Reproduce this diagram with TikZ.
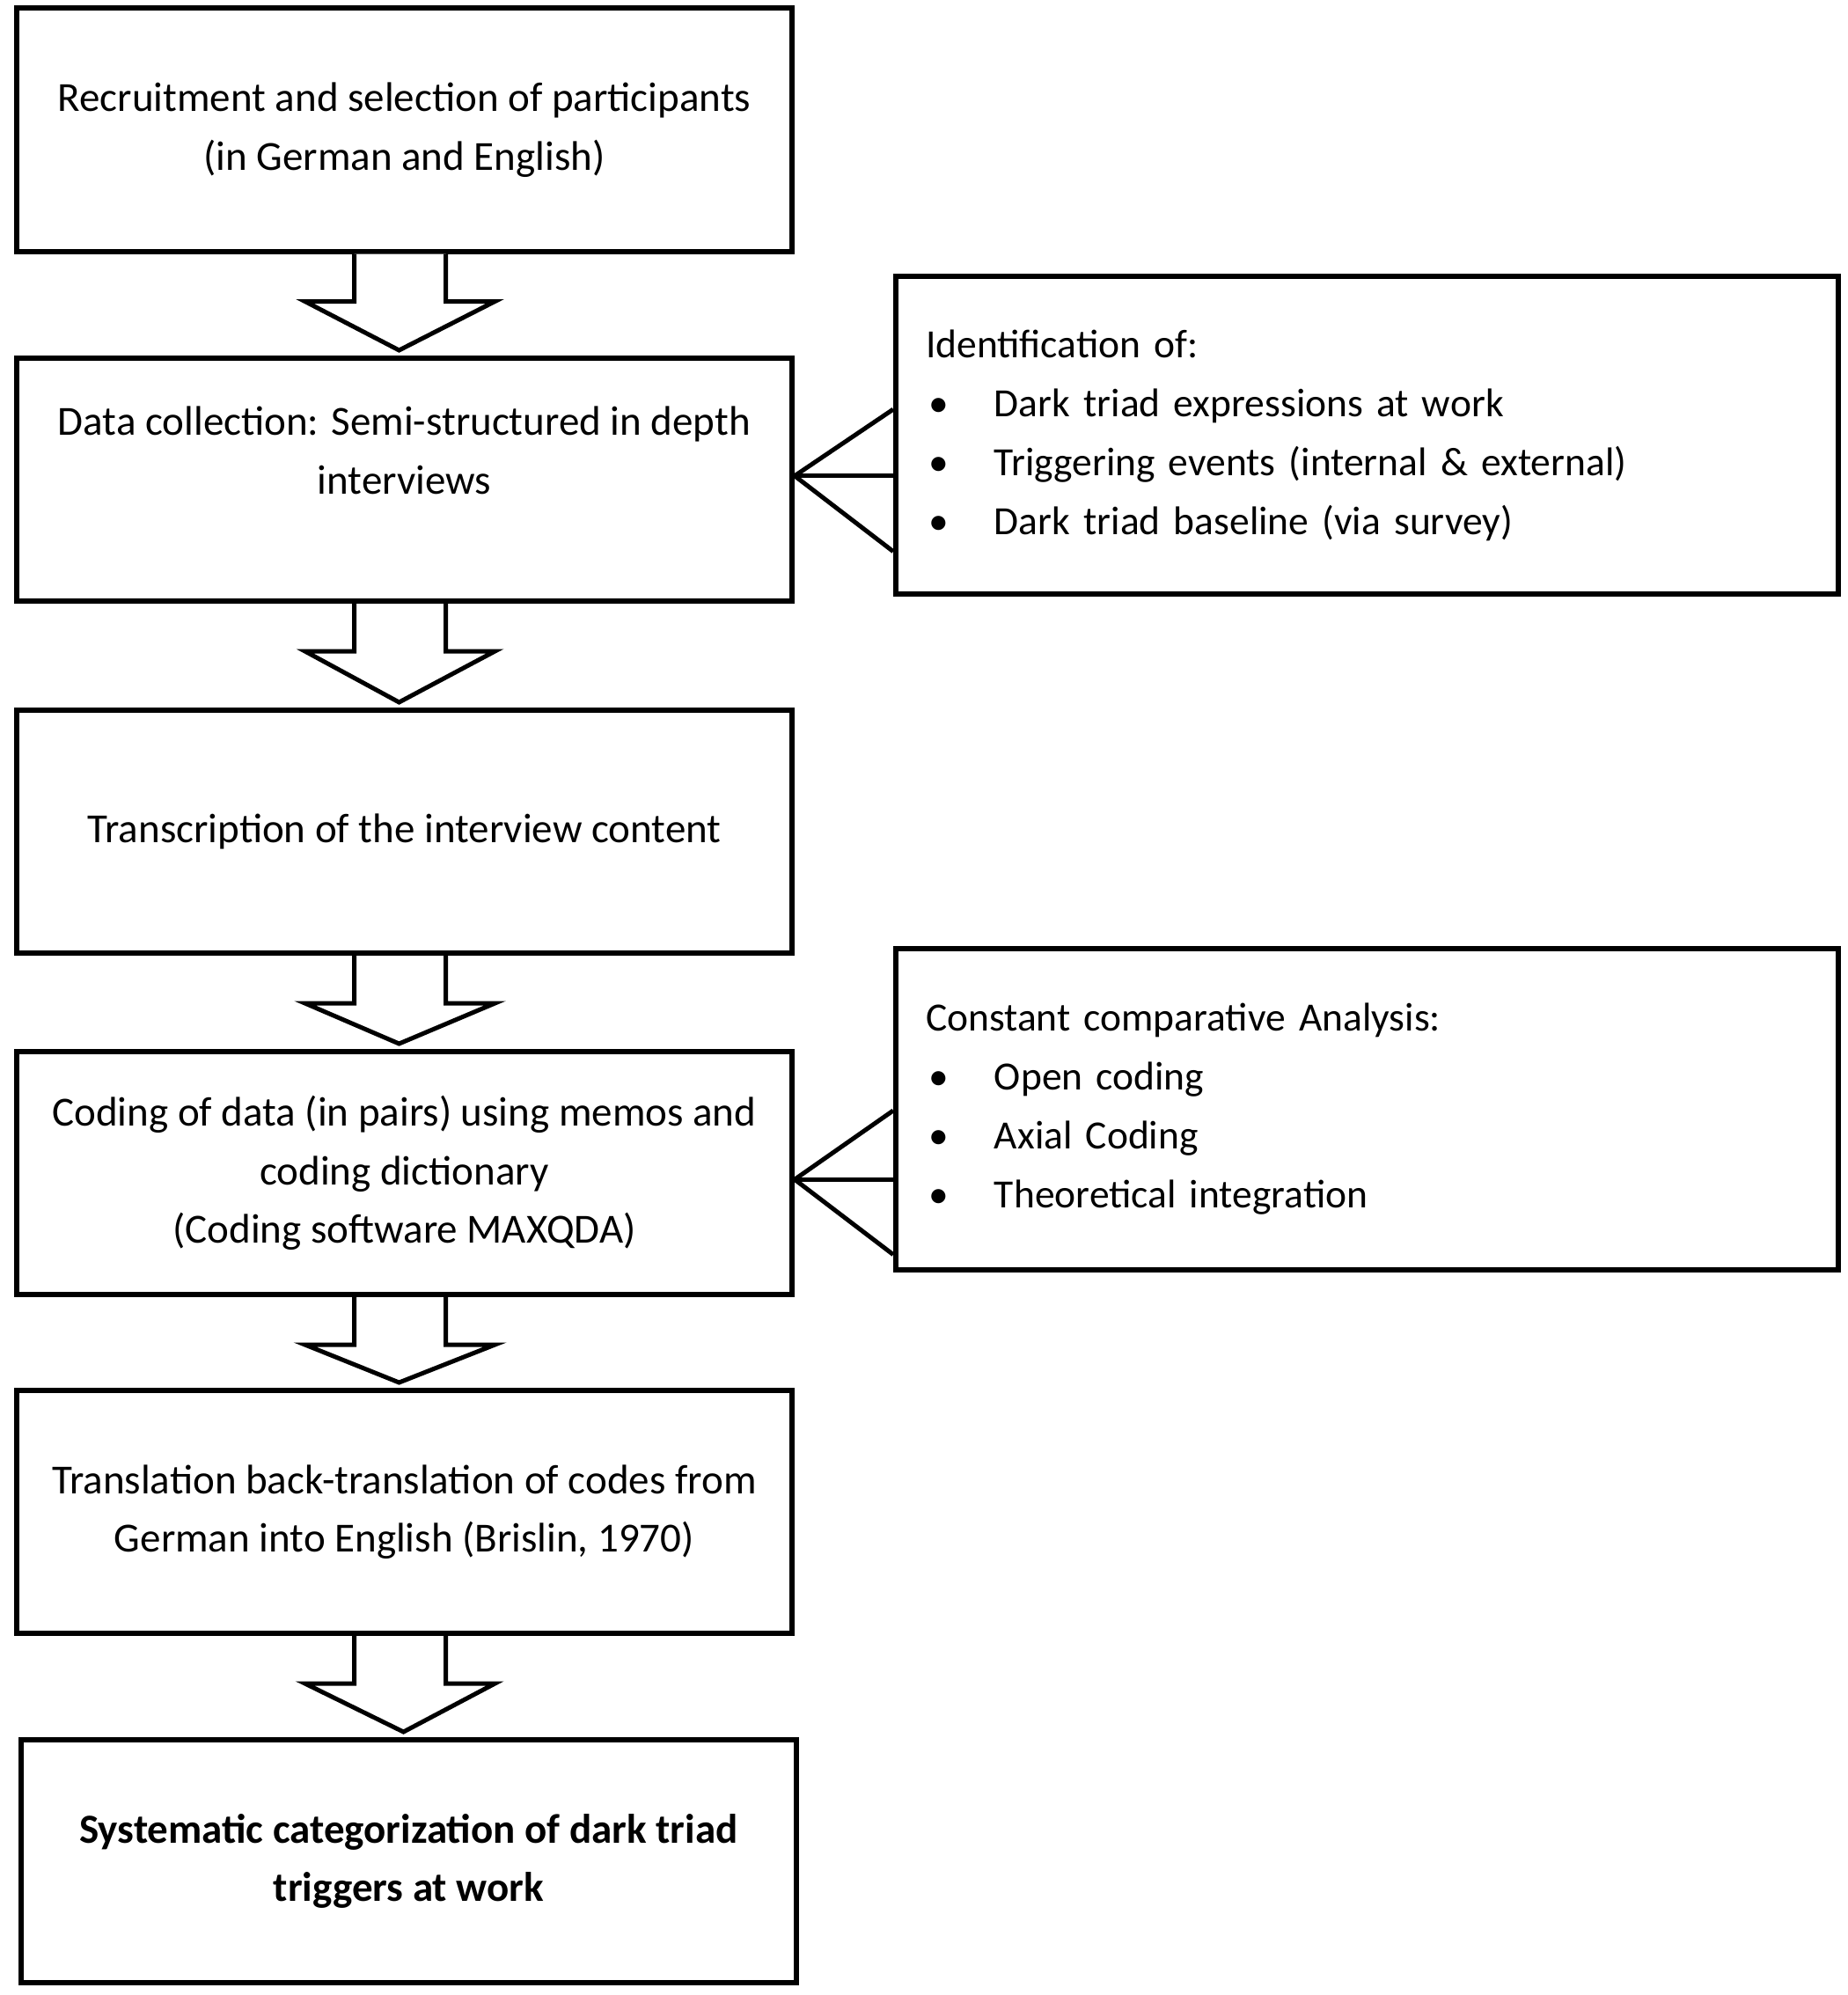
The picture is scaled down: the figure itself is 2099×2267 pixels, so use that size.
\documentclass[tikz,border=0pt]{standalone}
\usepackage{fontspec}
\setmainfont{Carlito}
\usetikzlibrary{calc}
\begin{document}
\begin{tikzpicture}[x=1pt,y=1pt,
  stepbox/.style={draw=black, line width=6pt, fill=white, minimum width=881pt, minimum height=276pt,
    align=center, inner sep=0pt, font=\fontsize{47}{66.5}\selectfont},
  sidebox/.style={draw=black, line width=6pt, fill=white, minimum width=1071pt,
    text width=1003pt, align=left, inner sep=0pt, font=\fontsize{45.5}{67}\selectfont},
  fork/.style={line width=5pt},
  blockarrow/.style={line width=5pt, fill=white, line join=miter}
]
\useasboundingbox (0,0) rectangle (2099,-2267);
\newcommand{\itm}{\makebox[78pt][l]{\hspace{3pt}\textbullet}}

\node[stepbox] (b1) at (459.5,-147.5) {Recruitment and selection of participants\\(in German and English)};
\node[stepbox] (b2) at (459.5,-545) {Data collection: Semi-structured in depth\\interviews\\\mbox{}};
\node[stepbox] (b3) at (459.5,-945) {Transcription of the interview content};
\node[stepbox] (b4) at (459.5,-1333) {Coding of data (in pairs) using memos and\\coding dictionary\\(Coding software MAXQDA)};
\node[stepbox] (b5) at (459.5,-1718) {Translation back-translation of codes from\\German into English (Brislin, 1970)};
\node[stepbox, font=\fontsize{47}{66.5}\selectfont\bfseries] (b6) at (464.5,-2115) {Systematic categorization of dark triad\\triggers at work};

\node[sidebox, minimum height=361pt] (r1) at (1553.5,-494.5) {Identification of:\\\itm Dark triad expressions at work\\\itm Triggering events (internal \& external)\\\itm Dark triad baseline (via survey)};
\node[sidebox, minimum height=365pt] (r2) at (1553.5,-1260.5) {Constant comparative Analysis:\\\itm Open coding\\\itm Axial Coding\\\itm Theoretical integration};

% block arrows
\foreach \a/\b in {b1/b2,b2/b3,b3/b4,b4/b5,b5/b6}{
  \draw[blockarrow] ($(\a.south)+(-57,0)$) -- ++(0,-54) -- ++(-56,0)
     -- ($(\b.north)+(-6,6)$) -- ($(\a.south)+(103,-54)$) -- ++(-56,0) -- ++(0,54);
}

% forks
\coordinate (f1a) at ($(r1.north west)!0.42!(r1.south west)$);
\coordinate (f1m) at ($(r1.north west)!0.626!(r1.south west)$);
\coordinate (f1b) at ($(r1.north west)!0.86!(r1.south west)$);
\coordinate (f1o) at (b2.east |- f1m);
\draw[fork] (f1a) -- (f1o) -- (f1b);
\draw[fork] (f1o) -- (f1m);

\coordinate (f2a) at ($(r2.north west)!0.504!(r2.south west)$);
\coordinate (f2m) at ($(r2.north west)!0.715!(r2.south west)$);
\coordinate (f2b) at ($(r2.north west)!0.945!(r2.south west)$);
\coordinate (f2o) at (b4.east |- f2m);
\draw[fork] (f2a) -- (f2o) -- (f2b);
\draw[fork] (f2o) -- (f2m);
\end{tikzpicture}
\end{document}
